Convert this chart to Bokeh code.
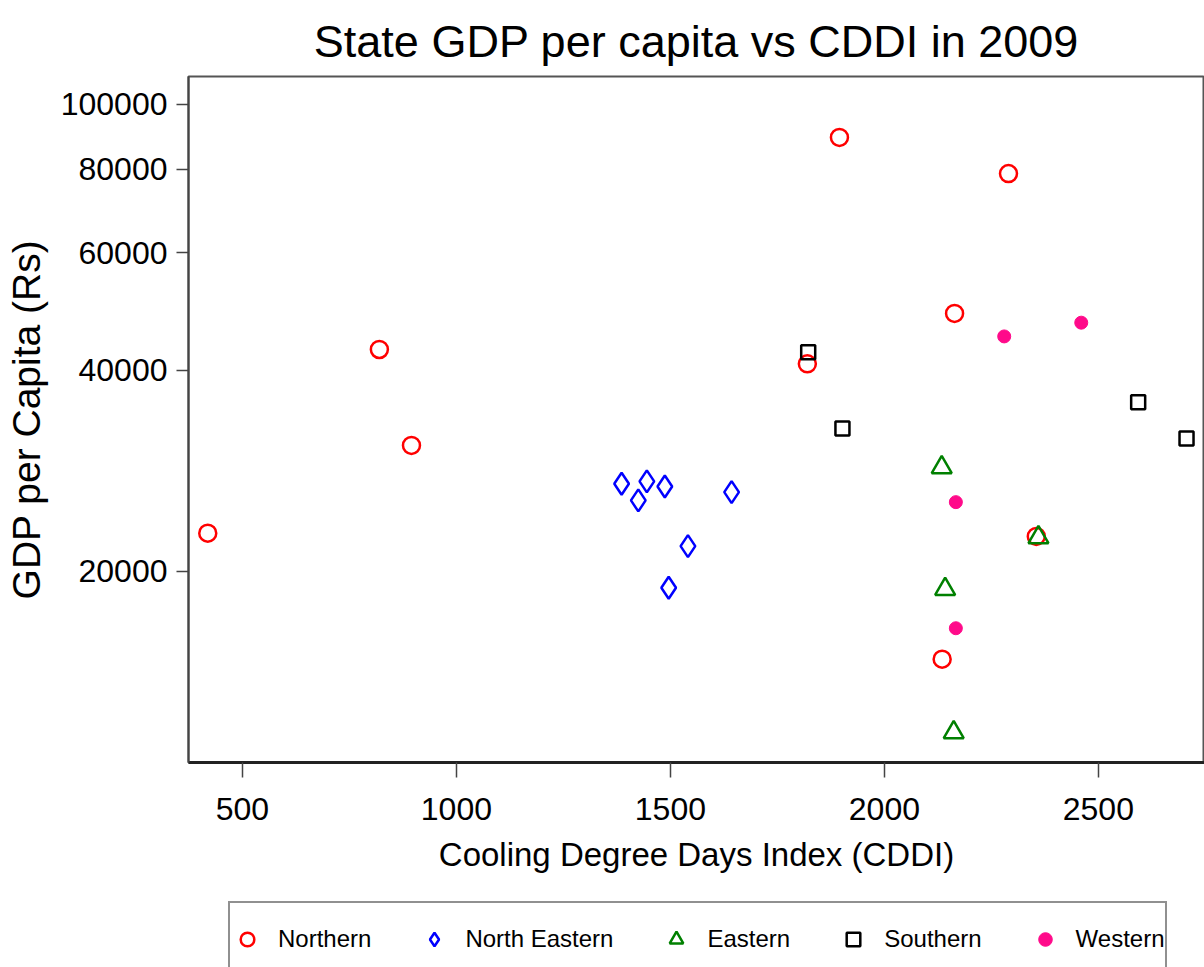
from bokeh.plotting import figure
from bokeh.layouts import column
from bokeh.models import (FixedTicker, NumeralTickFormatter, Range1d, Legend,
                          LegendItem)
from bokeh.embed import file_html
from bokeh.resources import INLINE

# ---- data: state GDP per capita (Rs) against cooling degree days, 2009 ----
regions = ["Northern", "North Eastern", "Eastern", "Southern", "Western"]

northern_cddi = [419, 820, 895, 1895, 2290, 2164, 1820, 2135, 2355]
northern_gdp = [22810, 42970, 30870, 89250, 78800, 48650, 40900, 14780, 22560]

north_eastern_cddi = [1386, 1445, 1425, 1487, 1643, 1541, 1496]
north_eastern_gdp = [27050, 27270, 25540, 26800, 26280, 21820, 18900]

eastern_cddi = [2134, 2360, 2142, 2162]
eastern_gdp = [28620, 22480, 18810, 11480]

southern_cddi = [1822, 1902, 2593, 2706]
southern_gdp = [42580, 32730, 35810, 31620]

western_cddi = [2280, 2460, 2167, 2167]
western_gdp = [44950, 47130, 25390, 16440]

x_ticks = [500, 1000, 1500, 2000, 2500]
y_ticks = [20000, 40000, 60000, 80000, 100000]

FONT = "Liberation Sans"

# marker style per region: (marker, size, line colour, fill colour, line width)
styles = [
    ("circle", 17, "#FF0000", None, 2.5),
    ("diamond", 22, "#0000FF", None, 2.5),
    ("triangle", 20, "#008000", None, 2.5),
    ("square", 14, "#000000", None, 2.5),
    ("circle", 13, "#FF0A8A", "#FF0A8A", 1),
]
series = [
    (northern_cddi, northern_gdp),
    (north_eastern_cddi, north_eastern_gdp),
    (eastern_cddi, eastern_gdp),
    (southern_cddi, southern_gdp),
    (western_cddi, western_gdp),
]

p = figure(
    width=1204, height=890,
    x_range=Range1d(374, 2748), y_range=Range1d(10350, 110100),
    y_axis_type="log",
    output_backend="svg", toolbar_location=None,
    min_border_left=188, min_border_right=0,
    min_border_top=76, min_border_bottom=128,
    background_fill_color="white", border_fill_color="white",
)

p.title.text = "State GDP per capita vs CDDI in 2009"
p.title.align = "center"
p.title.text_font = FONT
p.title.text_font_size = "45px"
p.title.text_font_style = "normal"
p.title.text_color = "black"
p.title.standoff = 20

p.xgrid.visible = False
p.ygrid.visible = False
p.outline_line_color = "#555555"
p.outline_line_width = 2

xa = p.xaxis[0]
ya = p.yaxis[0]
xa.ticker = FixedTicker(ticks=x_ticks, minor_ticks=[])
xa.axis_label = "Cooling Degree Days Index (CDDI)"
ya.ticker = FixedTicker(ticks=y_ticks, minor_ticks=[])
ya.formatter = NumeralTickFormatter(format="0")
ya.axis_label = "GDP per Capita (Rs)"

for ax in (xa, ya):
    ax.major_tick_in = 0
    ax.minor_tick_in = 0
    ax.minor_tick_out = 0
    ax.major_tick_line_color = "#444444"
    ax.major_tick_line_width = 1.5
    ax.major_label_text_font = FONT
    ax.major_label_text_font_size = "32px"
    ax.major_label_text_color = "black"
    ax.axis_label_text_font = FONT
    ax.axis_label_text_color = "black"
    ax.axis_label_text_font_style = "normal"

xa.major_tick_out = 15
xa.major_label_standoff = 20
xa.axis_line_color = "#222222"
xa.axis_line_width = 3
xa.axis_label_text_font_size = "33px"
xa.axis_label_standoff = 13

ya.major_tick_out = 12
ya.major_label_standoff = 9
ya.axis_line_color = "#444444"
ya.axis_line_width = 2
ya.axis_label_text_font_size = "39px"
ya.axis_label_standoff = 10

# points, one renderer per region
for (xs, ys), (mk, sz, lc, fc, lw) in zip(series, styles):
    p.scatter(xs, ys, marker=mk, size=sz, line_color=lc, fill_color=fc,
              line_width=lw)

# legend strip under the plot; its own renderers fall outside its empty frame
q = figure(
    width=1204, height=77,
    x_range=Range1d(0, 1), y_range=Range1d(0, 1),
    output_backend="svg", toolbar_location=None,
    x_axis_location=None, y_axis_location=None,
    min_border=0, outline_line_color=None,
    background_fill_color="white", border_fill_color="white",
)
q.xgrid.visible = False
q.ygrid.visible = False

keys = []
for lab, (xs, ys), (mk, sz, lc, fc, lw) in zip(regions, series, styles):
    r = q.scatter(xs, ys, marker=mk, size=sz, line_color=lc, fill_color=fc,
                  line_width=lw)
    keys.append(LegendItem(label=lab, renderers=[r]))

legend = Legend(
    items=keys,
    orientation="horizontal",
    location=(40, -10),
    margin=0, padding=0, spacing=46,
    glyph_width=34, glyph_height=72, label_standoff=14,
    label_text_font=FONT, label_text_font_size="24px",
    label_text_color="black",
    border_line_color="#222222", border_line_width=2,
    background_fill_color="white", background_fill_alpha=1,
)
q.add_layout(legend, "center")

page = column(p, q, spacing=0)
open("out.html", "w").write(file_html(page, INLINE))
